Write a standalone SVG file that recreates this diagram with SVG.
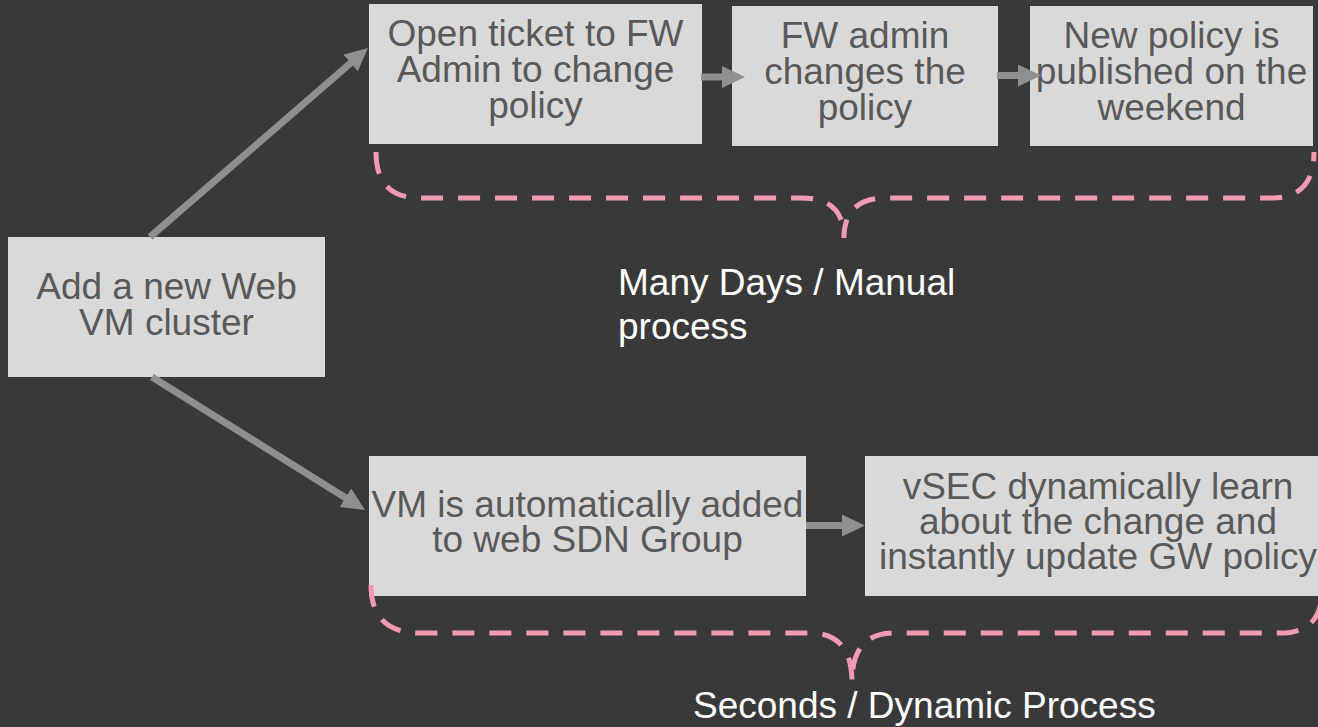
<svg xmlns="http://www.w3.org/2000/svg" width="1318" height="727" viewBox="0 0 1318 727">
<style>
.box{fill:#d9d9d9}
.bt{font-family:"Liberation Sans",Arial,sans-serif;font-size:37px;fill:#595959;text-anchor:middle}
.lbl{font-family:"Liberation Sans",Arial,sans-serif;font-size:37px;fill:#ffffff}
.arr{stroke:#8f8f8f;stroke-width:7;fill:none;marker-end:url(#ah)}
.brace{stroke:#f39ab3;stroke-width:5;fill:none;stroke-dasharray:22 15}
</style>
<defs>
<marker id="ah" markerUnits="userSpaceOnUse" markerWidth="24" markerHeight="23" refX="1" refY="11" orient="auto">
<path d="M0,0 L23,11 L0,22 z" fill="#8f8f8f"/>
</marker>
</defs>
<rect width="1318" height="727" fill="#393939"/>
<g id="node-add">
<rect class="box" x="8" y="237" width="317" height="140"/>
<text class="bt"><tspan x="166.5" y="299">Add a new Web</tspan><tspan x="166.5" y="335">VM cluster</tspan></text>
</g>
<g id="node-ticket">
<rect class="box" x="369" y="4" width="333" height="140"/>
<text class="bt"><tspan x="535.5" y="46">Open ticket to FW</tspan><tspan x="535.5" y="82">Admin to change</tspan><tspan x="535.5" y="118">policy</tspan></text>
</g>
<g id="node-fwadmin">
<rect class="box" x="732" y="6" width="266" height="140"/>
<text class="bt"><tspan x="865" y="48">FW admin</tspan><tspan x="865" y="84">changes the</tspan><tspan x="865" y="120">policy</tspan></text>
</g>
<g id="node-publish">
<rect class="box" x="1030" y="6" width="283" height="140"/>
<text class="bt"><tspan x="1171.5" y="48">New policy is</tspan><tspan x="1171.5" y="84">published on the</tspan><tspan x="1171.5" y="120">weekend</tspan></text>
</g>
<g id="node-vm">
<rect class="box" x="369" y="456" width="437" height="140"/>
<text class="bt"><tspan x="587.5" y="517">VM is automatically added</tspan><tspan x="587.5" y="552">to web SDN Group</tspan></text>
</g>
<g id="node-vsec">
<rect class="box" x="865" y="456" width="466" height="140"/>
<text class="bt"><tspan x="1098" y="499">vSEC dynamically learn</tspan><tspan x="1098" y="534">about the change and</tspan><tspan x="1098" y="569">instantly update GW policy</tspan></text>
</g>
<g id="connectors">
<line class="arr" x1="150" y1="237" x2="351.4" y2="62.4"/>
<line class="arr" x1="152" y1="377" x2="346.3" y2="498.3"/>
<line class="arr" x1="701" y1="77" x2="723" y2="77"/>
<line class="arr" x1="997" y1="75.5" x2="1019" y2="75.5"/>
<line class="arr" x1="806" y1="525.5" x2="843" y2="525.5"/>
</g>
<g id="braces">
<path class="brace" d="M376,152 Q376,198 420,198 L802,198 Q844,198 844,238 Q844,198 886,198 L1272,198 Q1314,198 1314,152"/>
<path class="brace" d="M371,585 Q371,633 420,633 L810,633 Q852,633 852,682 Q852,633 894,633 L1280,633 Q1322,633 1322,590"/>
</g>
<g id="labels">
<text class="lbl"><tspan x="618" y="295">Many Days / Manual</tspan><tspan x="618" y="339">process</tspan></text>
<text class="lbl" x="693" y="718">Seconds / Dynamic Process</text>
</g>
</svg>
